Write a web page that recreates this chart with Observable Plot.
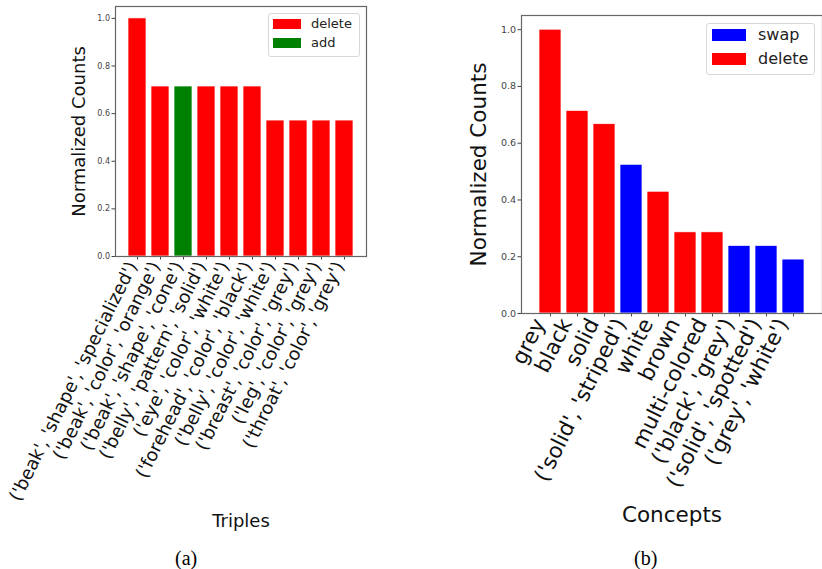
<!DOCTYPE html>
<html><head><meta charset="utf-8">
<script src="https://cdn.jsdelivr.net/npm/d3@7"></script>
<script src="https://cdn.jsdelivr.net/npm/@observablehq/plot@0.6"></script>
<style>
body{margin:0;background:#fff;}
#wrap{position:relative;width:822px;height:569px;overflow:hidden;font-family:"DejaVu Sans",sans-serif;}
#wrap svg{position:absolute;left:0;top:0;background:transparent !important;font-family:"DejaVu Sans",sans-serif;}
.lg{position:absolute;background:#fff;border:1px solid #d8d8d8;border-radius:3px;box-sizing:border-box;}
.lg .row{position:absolute;display:flex;align-items:center;color:#222;}
.lg .sw{display:inline-block;}
.cap{position:absolute;font-family:"Liberation Serif","Times New Roman",serif;font-size:20px;color:#000;}
#p1 g[aria-label="y-axis label"] text{font-size:18px;fill:#111;}
#p1 g[aria-label="x-axis label"] text{font-size:18px;fill:#111;}
#p2 g[aria-label="y-axis label"] text{font-size:21.5px;fill:#111;}
#p2 g[aria-label="x-axis label"] text{font-size:21.5px;fill:#111;}
</style>
</head><body>
<div id="wrap"></div>
<script>
// Panel (a): triples
const triples = [
  "('beak', 'shape', 'specialized')",
  "('beak', 'color', 'orange')",
  "('beak', 'shape', 'cone')",
  "('belly', 'pattern', 'solid')",
  "('eye', 'color', 'white')",
  "('forehead', 'color', 'black')",
  "('belly', 'color', 'white')",
  "('breast', 'color', 'grey')",
  "('leg', 'color', 'grey')",
  "('throat', 'color', 'grey')"
];
const tripleValues = [1.0, 0.714, 0.714, 0.714, 0.714, 0.714, 0.571, 0.571, 0.571, 0.571];
const tripleOps = ["delete", "delete", "add", "delete", "delete", "delete", "delete", "delete", "delete", "delete"];

// Panel (b): concepts
const concepts = [
  "grey", "black", "solid", "('solid', 'striped')", "white", "brown",
  "multi-colored", "('black', 'grey')", "('solid', 'spotted')", "('grey', 'white')"
];
const conceptValues = [1.0, 0.714, 0.667, 0.524, 0.429, 0.286, 0.286, 0.238, 0.238, 0.190];
const conceptOps = ["delete", "delete", "delete", "swap", "delete", "delete", "delete", "swap", "swap", "swap"];

const yTicks = [0.0, 0.2, 0.4, 0.6, 0.8, 1.0];
const legendA = ["delete", "add"];
const legendB = ["swap", "delete"];
const opColors = {delete: "#ff0000", add: "#008000", swap: "#0000ff"};

const dataA = triples.map((t, i) => ({label: t, value: tripleValues[i], op: tripleOps[i]}));
const dataB = concepts.map((t, i) => ({label: t, value: conceptValues[i], op: conceptOps[i]}));

const wrap = document.getElementById("wrap");

function panel(id, data, domain, m, fs, yLabel, xLabel, yOff, xOff, tdx) {
  const p = Plot.plot({
    width: 822, height: 569,
    marginLeft: m.l, marginRight: m.r, marginTop: m.t, marginBottom: m.b,
    style: {background: "transparent", overflow: "visible"},
    x: {domain, paddingInner: 0.2, paddingOuter: 0.49, label: null},
    y: {domain: [0, 1.05], label: null},
    color: {domain: Object.keys(opColors), range: Object.values(opColors)},
    marks: [
      Plot.barY(data, {x: "label", y: "value", fill: "op", stroke: "#fff", strokeWidth: 0.7}),
      Plot.axisY({ticks: yTicks, tickFormat: d3.format(".1f"), tickSize: 3.5, tickPadding: 2, fontSize: fs.y, fill: "#444", stroke: "#444",
        label: yLabel, labelAnchor: "center", labelArrow: false, labelOffset: yOff}),
      Plot.axisX({tickSize: 3.5, stroke: "#444", label: null, text: null}),
      Plot.axisX({tickRotate: -63.5, tickSize: 3.5, tickPadding: 3, fontSize: fs.x, fill: "#111", stroke: "none", dx: tdx,
        label: null}),
      Plot.axisX({ticks: [], tickSize: 0, label: xLabel, labelAnchor: "center", labelArrow: false, labelOffset: xOff}),
      Plot.frame({stroke: "#666", strokeWidth: 1.2})
    ]
  });
  p.id = id;
  wrap.appendChild(p);
}

panel("p1", dataA, triples, {l: 115, r: 456, t: 6, b: 313}, {x: 18, y: 8}, "Normalized Counts", "Triples", 43, 270, -5);
panel("p2", dataB, concepts, {l: 521, r: 0, t: 15, b: 256}, {x: 21.5, y: 9.5}, "Normalized Counts", "Concepts", 51, 208, -11);

function legend(items, box, sw, fsz, rows) {
  const d = document.createElement("div");
  d.className = "lg";
  Object.assign(d.style, {left: box[0] + "px", top: box[1] + "px", width: box[2] + "px", height: box[3] + "px"});
  items.forEach((k, i) => {
    const r = document.createElement("div");
    r.className = "row";
    Object.assign(r.style, {left: rows.x + "px", top: rows.y[i] + "px", fontSize: fsz + "px"});
    const s = document.createElement("span");
    s.className = "sw";
    Object.assign(s.style, {width: sw[0] + "px", height: sw[1] + "px", background: opColors[k], marginRight: rows.gap + "px"});
    r.appendChild(s);
    r.appendChild(document.createTextNode(k));
    d.appendChild(r);
  });
  wrap.appendChild(d);
}
legend(legendA, [268, 13, 92, 44], [28, 10], 13, {x: 4, y: [2, 21], gap: 10});
legend(legendB, [706, 23, 109, 52], [34, 12], 16, {x: 5, y: [1, 25], gap: 12});

function caption(t, x, y) {
  const c = document.createElement("div");
  c.className = "cap";
  c.textContent = t;
  Object.assign(c.style, {left: x + "px", top: y + "px"});
  wrap.appendChild(c);
}
caption("(a)", 175, 547);
caption("(b)", 634, 547);
</script>
</body></html>
